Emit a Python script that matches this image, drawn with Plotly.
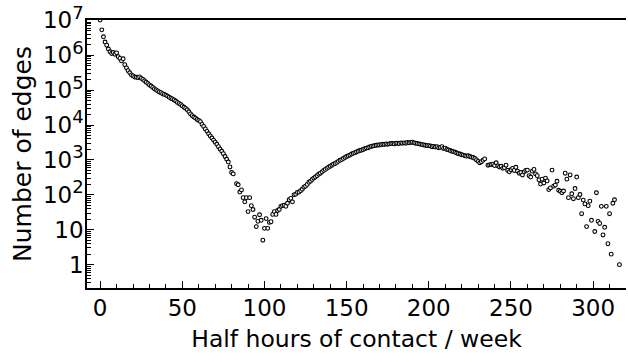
import plotly.graph_objects as go

# ---- data (x = half hours / week, y stored as log10 of number of edges) ----
x_main = list(range(0, 82))
log_main = [7.01, 6.73, 6.53, 6.38, 6.29, 6.18, 6.10, 6.05, 6.08, 6.03,
            6.07, 5.96, 5.91, 5.84, 5.90, 5.73, 5.64, 5.56, 5.50, 5.44,
            5.41, 5.38, 5.37, 5.36, 5.38, 5.34, 5.31, 5.27, 5.23, 5.19,
            5.15, 5.12, 5.08, 5.04, 5.01, 4.98, 4.95, 4.93, 4.90, 4.88,
            4.86, 4.83, 4.80, 4.77, 4.75, 4.72, 4.69, 4.65, 4.62, 4.59,
            4.55, 4.51, 4.48, 4.44, 4.38, 4.32, 4.27, 4.23, 4.20, 4.16,
            4.13, 4.10, 4.02, 3.96, 3.89, 3.82, 3.75, 3.69, 3.63, 3.57,
            3.51, 3.45, 3.38, 3.31, 3.25, 3.18, 3.10, 3.02, 2.94, 2.80,
            2.64, 2.60]

x_dip = [83, 84, 85, 86, 87, 88, 89, 90, 91, 92, 93, 94, 95, 96, 97, 98, 99,
         100, 101, 102, 103, 104, 105, 106, 107, 108, 109, 110, 111, 112, 113, 114, 115]
log_dip = [2.32, 2.29, 2.08, 2.14, 1.92, 1.80, 1.92, 1.52, 1.92, 1.69, 1.58, 1.36, 1.09, 1.24, 1.43, 1.27, 0.70,
           1.04, 1.32, 1.04, 1.21, 1.23, 1.44, 1.52, 1.44, 1.55, 1.58, 1.67, 1.69, 1.70, 1.67, 1.76, 1.86]

x_rise = list(range(116, 235))
log_rise = [1.90, 1.80, 2.00, 2.02, 2.07, 2.08, 2.12, 2.16, 2.22, 2.25,
            2.30, 2.36, 2.39, 2.44, 2.48, 2.51, 2.55, 2.59, 2.62, 2.66,
            2.70, 2.73, 2.76, 2.79, 2.82, 2.85, 2.88, 2.90, 2.93, 2.96,
            2.99, 3.01, 3.04, 3.07, 3.10, 3.12, 3.14, 3.17, 3.19, 3.21,
            3.23, 3.25, 3.27, 3.28, 3.30, 3.32, 3.34, 3.35, 3.37, 3.39,
            3.40, 3.41, 3.42, 3.43, 3.43, 3.44, 3.45, 3.44, 3.46, 3.45,
            3.46, 3.47, 3.47, 3.46, 3.48, 3.48, 3.47, 3.49, 3.48, 3.49,
            3.48, 3.50, 3.49, 3.50, 3.51, 3.49, 3.48, 3.47, 3.46, 3.45,
            3.44, 3.43, 3.42, 3.41, 3.41, 3.40, 3.38, 3.39, 3.37, 3.38,
            3.35, 3.36, 3.38, 3.33, 3.34, 3.30, 3.29, 3.27, 3.25, 3.24,
            3.22, 3.20, 3.18, 3.17, 3.15, 3.14, 3.12, 3.11, 3.12, 3.10,
            3.08, 3.07, 3.04, 3.00, 2.96, 2.92, 2.95, 2.99, 3.03]

x_tail = [236, 237, 238, 239, 240, 241, 242, 243, 244, 245, 246, 247, 248, 249, 250,
          251, 252, 253, 254, 255, 256, 257, 258, 259, 260, 261, 262, 263, 264, 265,
          266, 267, 268, 269, 270, 271, 272, 273, 274, 275, 276, 277, 278, 279, 280,
          281, 282, 283, 284, 285, 286, 287, 288, 289, 290, 291, 292, 293, 294, 295,
          296, 297, 298, 299, 301, 302, 303, 304, 305, 306, 307, 308, 309, 310, 311,
          312, 313, 316]
log_tail = [2.85, 2.86, 2.87, 2.88, 2.84, 2.92, 2.83, 2.80, 2.82, 2.76, 2.78, 2.85, 2.70, 2.66, 2.72,
            2.76, 2.70, 2.79, 2.68, 2.62, 2.64, 2.57, 2.66, 2.70, 2.71, 2.55, 2.51, 2.68, 2.73, 2.60,
            2.55, 2.43, 2.31, 2.45, 2.34, 2.48, 2.40, 2.15, 2.20, 2.71, 2.25, 2.28, 2.39, 2.13, 2.10,
            2.06, 2.11, 2.62, 2.45, 1.92, 2.57, 2.03, 1.89, 2.18, 2.51, 1.92, 2.01, 1.46, 1.85, 1.74,
            1.09, 1.69, 1.82, 1.27, 0.95, 2.06, 1.24, 1.18, 1.67, 0.85, 1.07, 1.67, 0.60, 1.46, 0.30,
            1.76, 1.86, 0.00]

y_tick_vals = [1, 10, 100, 1000, 10000, 100000, 1000000, 10000000]
y_tick_exps = ["", "", "2", "3", "4", "5", "6", "7"]
y_tick_text = ["1", "10"] + [
    '10<sup><span style="font-size:18px">%s</span></sup>' % e for e in y_tick_exps[2:]
]
x_tick_vals = [0, 50, 100, 150, 200, 250, 300]

x_all = x_main + x_dip + x_rise + x_tail
edges = [10 ** v for v in (log_main + log_dip + log_rise + log_tail)]

FONT = "DejaVu Sans, Liberation Sans, Arial, sans-serif"

fig = go.Figure()
fig.add_trace(go.Scatter(
    x=x_all, y=edges, mode="markers",
    marker=dict(symbol="circle", size=3.8, color="white",
                line=dict(color="black", width=1.1)),
    cliponaxis=True, showlegend=False,
))

minor_y = [k * 10 ** n for n in range(-1, 7) for k in range(2, 10)]

fig.update_layout(
    width=628, height=362,
    margin=dict(l=87, r=2, t=13, b=74),
    paper_bgcolor="white", plot_bgcolor="white",
    font=dict(family=FONT, size=23, color="black"),
    xaxis=dict(
        range=[-8, 320], showgrid=False, zeroline=False,
        showline=True, linecolor="black", linewidth=1.5, mirror=True,
        ticks="inside", ticklen=7, tickwidth=1.3, tickcolor="black",
        tickvals=x_tick_vals, ticktext=[str(v) for v in x_tick_vals],
        tickfont=dict(size=23), ticklabelstandoff=-1,
        minor=dict(ticks="inside", ticklen=4, tickwidth=1, tickcolor="black", dtick=10, tick0=0, showgrid=False),
        title=dict(text="Half hours of contact / week", font=dict(size=23.5), standoff=10),
    ),
    yaxis=dict(
        type="log", range=[-0.67, 7.012], showgrid=False, zeroline=False,
        showline=True, linecolor="black", linewidth=1.5, mirror=False,
        ticks="inside", ticklen=7, tickwidth=1.3, tickcolor="black",
        tickvals=y_tick_vals, ticktext=y_tick_text,
        tickfont=dict(size=23), ticklabeloverflow="allow", ticklabelstandoff=-3,
        minor=dict(ticks="inside", ticklen=4, tickwidth=1, tickcolor="black", tickvals=minor_y, showgrid=False),
        title=dict(text="Number of edges", font=dict(size=25), standoff=4),
    ),
)

fig.write_html("out.html")
